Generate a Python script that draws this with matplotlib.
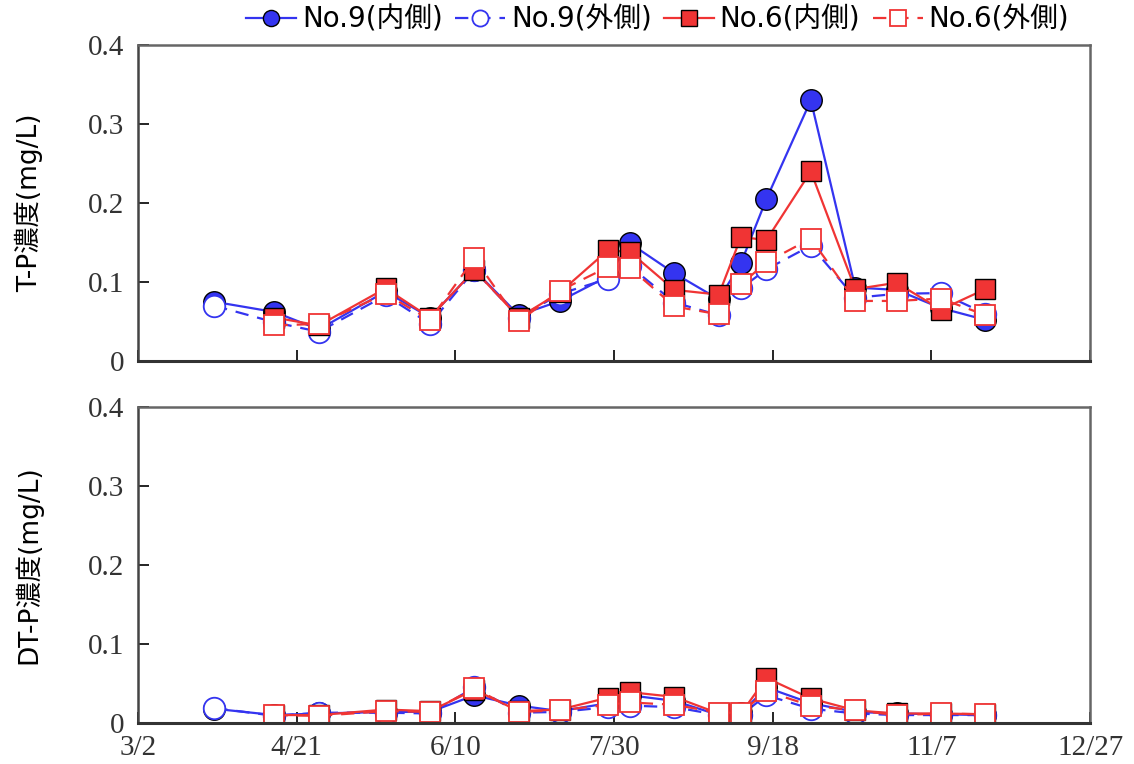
import matplotlib
matplotlib.use("Agg")
import matplotlib.pyplot as plt

plt.rcParams['font.family'] = ['DejaVu Sans', 'Noto Sans CJK JP']

# days after 3/2
days = [24, 43, 57, 78, 92, 106, 120, 133, 148, 155, 169, 183, 190, 198, 212, 226, 239, 253, 267]
days6 = days[1:]

# T-P (mg/L)
tp_no9_in = [0.075, 0.062, 0.040, 0.088, 0.055, 0.115, 0.058, 0.076, 0.107, 0.149, 0.111, 0.078,
             0.124, 0.205, 0.330, 0.093, 0.090, 0.067, 0.052]
tp_no9_out = [0.070, 0.049, 0.037, 0.083, 0.047, 0.115, 0.055, 0.085, 0.104, 0.120, 0.074, 0.058,
              0.092, 0.116, 0.146, 0.080, 0.085, 0.086, 0.060]
tp_no6_in = [0.055, 0.045, 0.092, 0.055, 0.115, 0.055, 0.087, 0.140, 0.138, 0.090, 0.084,
             0.157, 0.153, 0.240, 0.091, 0.099, 0.065, 0.091]
tp_no6_out = [0.045, 0.047, 0.085, 0.052, 0.130, 0.050, 0.089, 0.119, 0.118, 0.069, 0.059,
              0.097, 0.125, 0.155, 0.076, 0.076, 0.079, 0.058]

# DT-P (mg/L)
dtp_no9_in = [0.018, 0.010, 0.012, 0.014, 0.014, 0.035, 0.022, 0.015, 0.025, 0.035, 0.028, 0.010,
              0.012, 0.045, 0.025, 0.014, 0.012, 0.011, 0.010]
dtp_no9_out = [0.019, 0.009, 0.013, 0.013, 0.012, 0.045, 0.013, 0.014, 0.020, 0.022, 0.020, 0.010,
               0.010, 0.035, 0.018, 0.012, 0.010, 0.010, 0.010]
dtp_no6_in = [0.010, 0.010, 0.017, 0.015, 0.042, 0.015, 0.017, 0.032, 0.039, 0.033, 0.012,
              0.012, 0.057, 0.031, 0.016, 0.012, 0.012, 0.011]
dtp_no6_out = [0.010, 0.009, 0.015, 0.014, 0.044, 0.014, 0.016, 0.023, 0.026, 0.023, 0.013,
               0.013, 0.040, 0.022, 0.016, 0.010, 0.012, 0.011]

xticks = [0, 50, 100, 150, 200, 250, 300]
xlabels = ['3/2', '4/21', '6/10', '7/30', '9/18', '11/7', '12/27']
yticks = [0, 0.1, 0.2, 0.3, 0.4]
ylabels = ['0', '0.1', '0.2', '0.3', '0.4']
names = ['No.9(内側)', 'No.9(外側)', 'No.6(内側)', 'No.6(外側)']

blue = '#3434f0'
red = '#f03434'
ms = 15.5

fig = plt.figure(figsize=(11.34, 7.64), dpi=100)
ax1 = fig.add_axes([0.1217, 0.5275, 0.8396, 0.4136])
ax2 = fig.add_axes([0.1217, 0.0537, 0.8396, 0.4136])

def draw(ax, a, b, c, d):
    h = []
    h += ax.plot(days, a, '-', color=blue, lw=1.6, marker='o', ms=ms,
                 mfc=blue, mec='black', mew=1.0)
    h += ax.plot(days, b, '--', color=blue, lw=1.6, dashes=(6, 4), marker='o', ms=ms,
                 mfc='white', mec=blue, mew=1.3)
    h += ax.plot(days6, c, '-', color=red, lw=1.6, marker='s', ms=ms - 1,
                 mfc=red, mec='black', mew=1.0)
    h += ax.plot(days6, d, '--', color=red, lw=1.6, dashes=(6, 4), marker='s', ms=ms - 1,
                 mfc='white', mec=red, mew=1.3)
    ax.set_xlim(0, 300)
    ax.set_ylim(0, 0.4)
    ax.set_xticks(xticks)
    ax.set_yticks(yticks)
    ax.set_yticklabels(ylabels, family='Liberation Serif', fontsize=21, color='#333333')
    ax.tick_params(direction='in', length=8, width=1.2, top=False, right=False)
    ax.tick_params(axis='y', pad=10)
    ax.tick_params(axis='x', pad=9)
    for s in ax.spines.values():
        s.set_color('#666666')
        s.set_linewidth(1.8)
    ax.spines['bottom'].set_color('#333333')
    ax.spines['bottom'].set_linewidth(2.2)
    ax.spines['left'].set_color('#444444')
    ax.yaxis.set_label_coords(-0.1, 0.5)
    return h

h = draw(ax1, tp_no9_in, tp_no9_out, tp_no6_in, tp_no6_out)
ax1.set_xticklabels([])
ax1.set_ylabel('T-P濃度(mg/L)', fontsize=19)

draw(ax2, dtp_no9_in, dtp_no9_out, dtp_no6_in, dtp_no6_out)
ax2.set_xticklabels(xlabels, family='Liberation Serif', fontsize=21, color='#333333')
ax2.set_ylabel('DT-P濃度(mg/L)', fontsize=19)

fig.legend(h, names, loc='center', bbox_to_anchor=(0.58, 0.974), ncol=4, frameon=False,
           fontsize=20, handlelength=1.8, handletextpad=0.2, columnspacing=0.45,
           markerscale=0.75, borderpad=0)

fig.savefig('out.png', dpi=100)
